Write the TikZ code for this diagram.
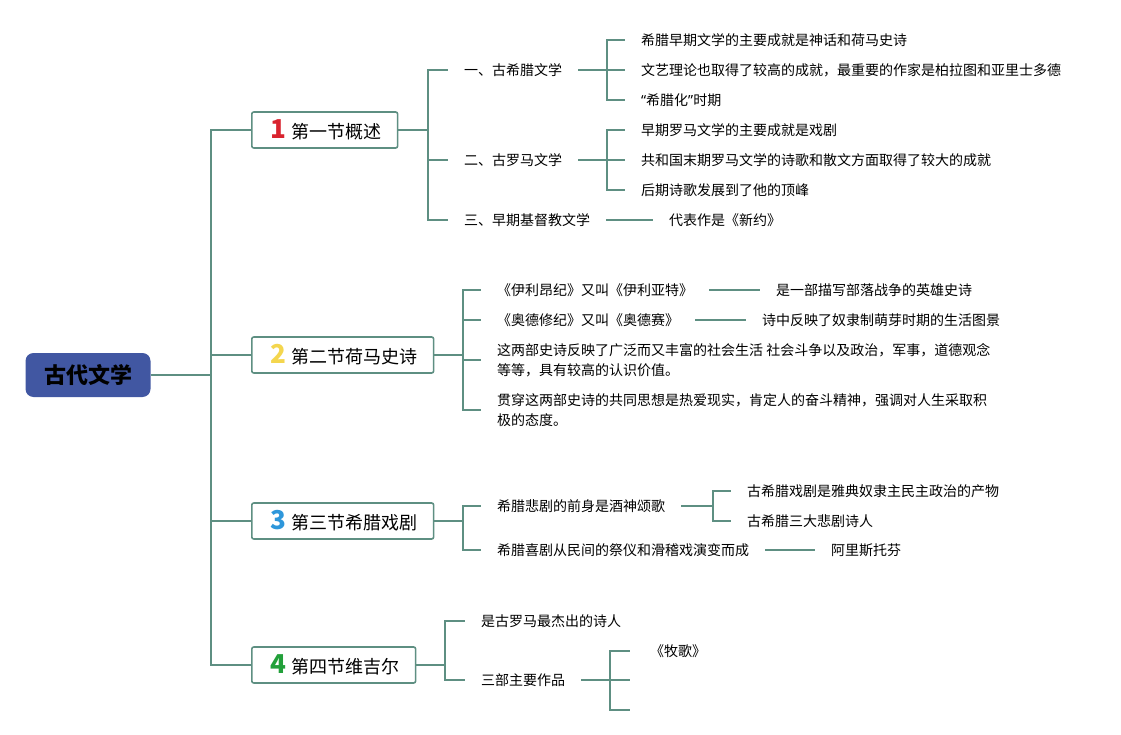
\documentclass[tikz,border=0pt]{standalone}
\usepackage{fontspec}
\setmainfont{Noto Sans CJK SC}
\newfontfamily\quotefont{Noto Sans}
\usetikzlibrary{positioning,calc}
\definecolor{branch}{HTML}{5E8F82}
\definecolor{rootblue}{HTML}{4157A2}
\definecolor{numred}{HTML}{D9232E}
\definecolor{numyellow}{HTML}{F4D64E}
\definecolor{numblue}{HTML}{2E97DB}
\definecolor{numgreen}{HTML}{22A03A}
\newcommand{\secnum}[2]{\hspace*{3pt}{\fontsize{26}{26}\selectfont\bfseries\color{#1}#2}\hspace{5pt}}

\begin{document}
\begin{tikzpicture}[x=1pt,y=-1pt,
  conn/.style={draw=branch,line width=1.6pt},
  rootbox/.style={fill=rootblue,rounded corners=8pt,minimum width=125pt,minimum height=44pt,font=\fontsize{22}{22}\selectfont\bfseries},
  secbox/.style={draw=branch,line width=1.6pt,fill=white,rounded corners=2pt,anchor=west,inner xsep=16pt,minimum height=36pt,font=\fontsize{18}{18}\selectfont},
  leaf/.style={anchor=west,inner xsep=16pt,inner ysep=2pt,align=left,font=\fontsize{14}{20}\selectfont}]
\useasboundingbox (0,0) rectangle (1121,735);

\node[rootbox] (root) at (88,375) {古代文学};
\node[secbox] (s1) at (251,130) {\secnum{numred}{1}第一节概述};
\node[secbox] (s2) at (251,355) {\secnum{numyellow}{2}第二节荷马史诗};
\node[secbox] (s3) at (251,521) {\secnum{numblue}{3}第三节希腊戏剧};
\node[secbox] (s4) at (251,665) {\secnum{numgreen}{4}第四节维吉尔};
\coordinate (sp) at (211,375);
\draw[conn] (root.east) -- (sp);
\foreach \s in {s1,s2,s3,s4} \draw[conn] (sp) |- (\s.west);

\node[leaf] (g1) at (448,70) {一、古希腊文学};
\node[leaf] (g2) at (448,160) {二、古罗马文学};
\node[leaf] (g3) at (448,220) {三、早期基督教文学};
\coordinate (j1) at (428,130);
\draw[conn] (s1.east) -- (j1);
\foreach \c in {g1,g2,g3} \draw[conn] (j1) |- (\c.west);

\node[leaf] (g1a) at (625,40) {希腊早期文学的主要成就是神话和荷马史诗};
\node[leaf] (g1b) at (625,70) {文艺理论也取得了较高的成就，最重要的作家是柏拉图和亚里士多德};
\node[leaf] (g1c) at (625,100) {{\quotefont “}希腊化{\quotefont ”}时期};
\coordinate (jg1) at (607,70);
\draw[conn] (g1.east) -- (jg1);
\foreach \c in {g1a,g1b,g1c} \draw[conn] (jg1) |- (\c.west);

\node[leaf] (g2a) at (625,130) {早期罗马文学的主要成就是戏剧};
\node[leaf] (g2b) at (625,160) {共和国末期罗马文学的诗歌和散文方面取得了较大的成就};
\node[leaf] (g2c) at (625,190) {后期诗歌发展到了他的顶峰};
\coordinate (jg2) at (607,160);
\draw[conn] (g2.east) -- (jg2);
\foreach \c in {g2a,g2b,g2c} \draw[conn] (jg2) |- (\c.west);

\node[leaf] (g3a) at (653,220) {代表作是《新约》};
\draw[conn] (g3.east) -- (g3a.west);

\node[leaf] (h1) at (481,290) {《伊利昂纪》又叫《伊利亚特》};
\node[leaf] (h2) at (481,320) {《奥德修纪》又叫《奥德赛》};
\node[leaf] (h3) at (481,360) {这两部史诗反映了广泛而又丰富的社会生活 社会斗争以及政治，军事，道德观念\\等等，具有较高的认识价值。};
\node[leaf] (h4) at (481,410) {贯穿这两部史诗的共同思想是热爱现实，肯定人的奋斗精神，强调对人生采取积\\极的态度。};
\coordinate (j2) at (463,355);
\draw[conn] (s2.east) -- (j2);
\foreach \c in {h1,h2,h3,h4} \draw[conn] (j2) |- (\c.west);
\node[leaf] (h1a) at (760,290) {是一部描写部落战争的英雄史诗};
\node[leaf] (h2a) at (746,320) {诗中反映了奴隶制萌芽时期的生活图景};
\draw[conn] (h1.east) -- (h1a.west);
\draw[conn] (h2.east) -- (h2a.west);

\node[leaf] (k1) at (481,506) {希腊悲剧的前身是酒神颂歌};
\node[leaf] (k2) at (481,550) {希腊喜剧从民间的祭仪和滑稽戏演变而成};
\coordinate (j3) at (463,521);
\draw[conn] (s3.east) -- (j3);
\foreach \c in {k1,k2} \draw[conn] (j3) |- (\c.west);
\node[leaf] (k1a) at (731,491) {古希腊戏剧是雅典奴隶主民主政治的产物};
\node[leaf] (k1b) at (731,521) {古希腊三大悲剧诗人};
\coordinate (jk1) at (713,506);
\draw[conn] (k1.east) -- (jk1);
\foreach \c in {k1a,k1b} \draw[conn] (jk1) |- (\c.west);
\node[leaf] (k2a) at (815,550) {阿里斯托芬};
\draw[conn] (k2.east) -- (k2a.west);

\node[leaf] (m1) at (465,621) {是古罗马最杰出的诗人};
\node[leaf] (m2) at (465,680) {三部主要作品};
\coordinate (j4) at (445,665);
\draw[conn] (s4.east) -- (j4);
\foreach \c in {m1,m2} \draw[conn] (j4) |- (\c.west);
\node[leaf,inner xsep=20pt] (m2a) at (630,651) {《牧歌》};
\coordinate (m2b) at (630,680);
\coordinate (m2c) at (630,710);
\coordinate (jm2) at (610,680);
\draw[conn] (m2.east) -- (jm2);
\draw[conn] (jm2) |- (m2a.west);
\draw[conn] (jm2) -- (m2b);
\draw[conn] (jm2) |- (m2c);
\end{tikzpicture}
\end{document}
